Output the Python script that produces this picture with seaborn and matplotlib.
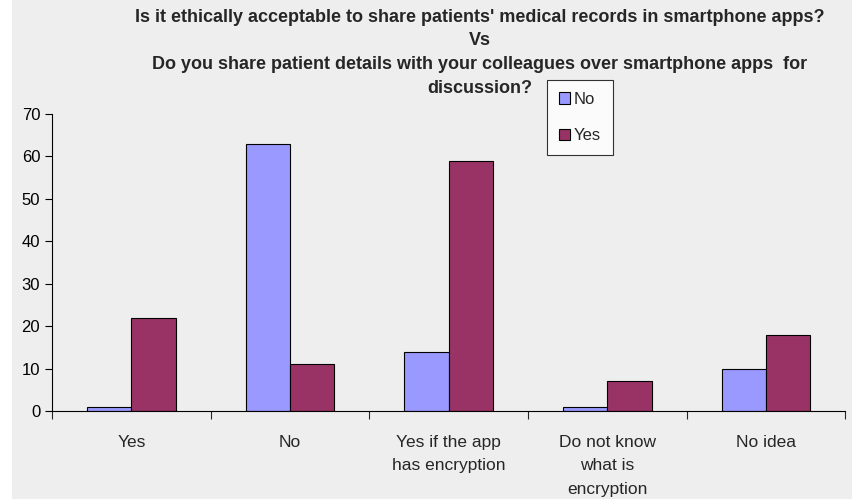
import matplotlib
matplotlib.use("Agg")
import matplotlib.pyplot as plt
import numpy as np
import pandas as pd
import seaborn as sns

# DATA
categories = ["Yes", "No", "Yes if the app\nhas encryption", "Do not know\nwhat is\nencryption", "No idea"]
series_names = ["No", "Yes"]
values_no = [1, 63, 14, 1, 10]
values_yes = [22, 11, 59, 7, 18]
yticks = [0, 10, 20, 30, 40, 50, 60, 70]
title_lines = ["Is it ethically acceptable to share patients' medical records in smartphone apps?",
               "Vs",
               "Do you share patient details with your colleagues over smartphone apps  for",
               "discussion?"]

sns.set_style("ticks")
plt.rcParams['font.family'] = ['Liberation Sans', 'DejaVu Sans']

df = pd.DataFrame({
    "category": categories * 2,
    "answer": [series_names[0]] * len(categories) + [series_names[1]] * len(categories),
    "value": values_no + values_yes,
})

fig = plt.figure(figsize=(8.53, 4.99), dpi=100)
fig.patch.set_facecolor("#eeeeee")
# thin white strip on the left edge, as in the source image
fig.patches.append(plt.Rectangle((0, 0), 12 / 853, 1, transform=fig.transFigure,
                                 facecolor="white", edgecolor="none", zorder=-1))
ax = fig.add_axes([0.061, 0.176, 0.93, 0.596])
ax.set_facecolor("#eeeeee")

sns.barplot(data=df, x="category", y="value", hue="answer", order=categories,
            hue_order=series_names, palette=["#9999ff", "#993366"], saturation=1,
            width=0.56, edgecolor="black", linewidth=0.8, ax=ax, legend=True)

ax.set_xlim(-0.5, len(categories) - 0.5)
ax.set_ylim(0, 70)
ax.set_yticks(yticks)
ax.tick_params(axis='y', labelsize=12, length=5, width=0.8, colors='black')

# tick marks between categories, labels at centers
ax.set_xticks(np.arange(-0.5, len(categories), 1.0))
ax.set_xticklabels([])
ax.tick_params(axis='x', which='major', length=6, width=0.8, direction='out')
ax.set_xticks(np.arange(len(categories)), minor=True)
ax.set_xticklabels(categories, minor=True, fontsize=12.5, linespacing=1.7)
ax.tick_params(axis='x', which='minor', length=0, pad=17)

ax.set_xlabel("")
ax.set_ylabel("")
sns.despine(ax=ax)
for s in ["left", "bottom"]:
    ax.spines[s].set_color("black")
    ax.spines[s].set_linewidth(0.8)

# title, one line at a time so the legend can sit beside the last line
for i, line in enumerate(title_lines):
    fig.text(0.562, 1 - (17 + 23.7 * i) / 499, line, ha='center', va='center',
             fontsize=13, fontweight='bold')

leg = ax.legend(loc='upper left', bbox_to_anchor=(0.624, 1.114), borderaxespad=0,
                frameon=True, fancybox=False, edgecolor='black', facecolor='white',
                fontsize=12, handlelength=0.7, handleheight=0.7, handletextpad=0.2,
                labelspacing=1.3, borderpad=0.7)
leg.get_frame().set_linewidth(0.8)

plt.savefig("out.png", dpi=100, facecolor=fig.get_facecolor())
